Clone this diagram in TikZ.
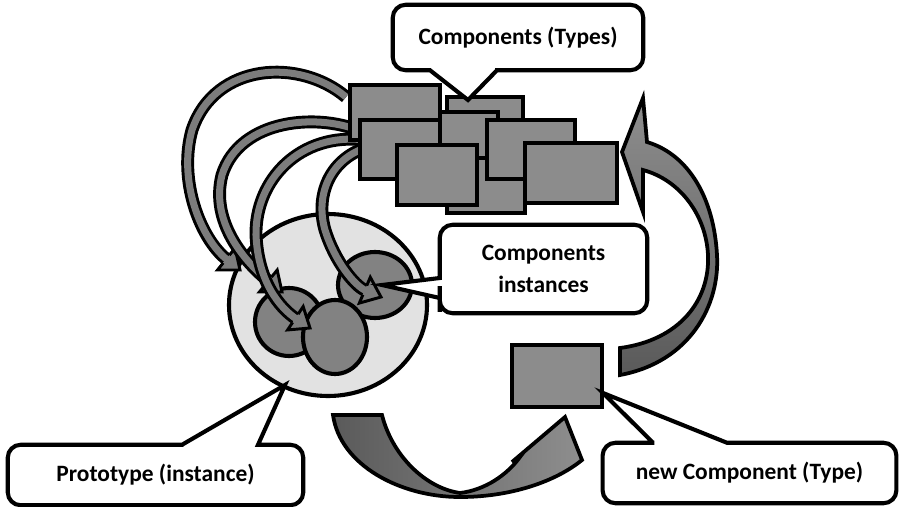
\documentclass[tikz,border=0pt]{standalone}
\usepackage{fontspec}
\setmainfont{Carlito}
\usetikzlibrary{calc,decorations.markings}

\definecolor{boxgray}{HTML}{8C8C8C}
\definecolor{bandgray}{HTML}{7C7C7C}
\definecolor{circgray}{HTML}{828282}
\definecolor{ellgray}{HTML}{E2E2E2}
\definecolor{darkband}{HTML}{5A5A5A}
\definecolor{lightband}{HTML}{8E8E8E}

\pgfdeclarelayer{calloutlayer}
\pgfdeclarelayer{labellayer}
\pgfsetlayers{main,calloutlayer,labellayer}

% arrow head placed at the end of a curved band
\newcommand\bandhead{%
  \fill[bandgray] (-15pt,4.25pt) -- (-15pt,12pt) -- (0pt,0pt) -- (-15pt,-12pt) -- (-15pt,-4.25pt) -- cycle;
  \draw[line width=2.5pt, line join=miter] (-15pt,4.25pt) -- (-15pt,12pt) -- (0pt,0pt) -- (-15pt,-12pt) -- (-15pt,-4.25pt);
}
% outlined curved band ending in an arrow head
\newcommand\curvedband[1]{%
  \draw[line width=11pt, black, shorten >=15pt] #1;
  \draw[line width=6pt, bandgray, shorten >=14pt] #1;
  \path[decoration={markings, mark=at position 1 with {\bandhead}}, decorate] #1;
}

\begin{document}
\begin{tikzpicture}[x=0.03cm, y=-0.03cm,
  outline/.style={draw=black, line width=3.5pt, line join=miter},
  typebox/.style={outline, fill=boxgray},
  instcircle/.style={outline, fill=circgray},
  bigarrow/.style={draw=black, line width=3.2pt, line join=miter},
  calloutshape/.style={draw=black, fill=white, line width=3.5pt, line join=miter},
  calloutlabel/.style={font=\bfseries\fontsize{20}{27}\selectfont, align=center, inner sep=0pt}]
\useasboundingbox (0,0) rectangle (899,507);

% prototype instance with its component instances
\draw[outline, fill=ellgray] (328,305) ellipse [x radius=99, y radius=91];
\draw[instcircle] (375,285) ellipse [x radius=37, y radius=33];
\draw[instcircle] (289,322) ellipse [x radius=34, y radius=34];
\draw[instcircle] (335,337) ellipse [x radius=32, y radius=37];

% instantiation arrows from the types to the prototype
\curvedband{(346,97) .. controls (300,58) and (215,62) .. (192,130) .. controls (178,180) and (200,238) .. (240,270)}
\curvedband{(365,133) .. controls (320,112) and (240,118) .. (222,175) .. controls (210,222) and (245,262) .. (282,292)}
\curvedband{(365,140) .. controls (300,132) and (255,180) .. (256,235) .. controls (258,282) and (280,308) .. (310,328)}
\curvedband{(365,148) .. controls (330,160) and (315,195) .. (325,230) .. controls (335,262) and (355,286) .. (381,297)}

% component types
\draw[typebox] (350,85) rectangle (440,140);
\draw[typebox] (447,97) rectangle (523,150);
\draw[typebox] (440,112) rectangle (498,165);
\draw[typebox] (447,158) rectangle (525,213);
\draw[typebox] (360,120) rectangle (440,179);
\draw[typebox] (487,120) rectangle (575,179);
\draw[typebox] (397,145) rectangle (477,205);
\draw[typebox] (525,143) rectangle (617,203);

% new component type
\draw[typebox] (512,345) rectangle (602,407);

% cycle arrows
\draw[bigarrow, left color=darkband, right color=lightband]
  (333,415) -- (382,415) .. controls (392,455) and (425,488) .. (460,493)
  .. controls (485,490) and (507,475) .. (520,457) -- (512,462) -- (565,417) -- (582,460)
  .. controls (555,482) and (510,497) .. (460,497)
  .. controls (400,497) and (340,465) .. (333,415) -- cycle;
\draw[bigarrow, top color=lightband, bottom color=darkband]
  (620,375) .. controls (690,362) and (720,305) .. (717,255)
  .. controls (714,200) and (690,155) .. (647,142) -- (643,98) -- (622,152) -- (643,212) -- (643,170)
  .. controls (680,180) and (706,215) .. (708,255)
  .. controls (710,300) and (680,340) .. (620,348) -- cycle;

% callout targets
\coordinate (tipTypes) at (468,100);
\coordinate (tipInst) at (382,285);
\coordinate (tipProto) at (285,385);
\coordinate (tipNew) at (603,393);

% callout labels
\begin{pgfonlayer}{labellayer}
\node[calloutlabel, minimum width=7.5cm, minimum height=1.95cm] (types) at (518,37.5) {Components (Types)};
\node[calloutlabel, minimum width=6.21cm, minimum height=2.64cm] (inst) at (543.5,269) {Components\\instances};
\node[calloutlabel, minimum width=8.85cm, minimum height=1.8cm] (proto) at (155.5,475) {Prototype (instance)};
\node[calloutlabel, minimum width=8.8cm, minimum height=1.8cm] (newc) at (749.5,473) {new Component (Type)};
\end{pgfonlayer}

% callout outlines with their pointers
\begin{pgfonlayer}{calloutlayer}
\draw[calloutshape] (types.north) [rounded corners=11pt] -- (types.north east) -- (types.south east)
  -- ($(types.south)+(-10,0)$) [sharp corners] -- ($(types.south)+(-21,0)$) -- (tipTypes)
  -- ($(types.south)+(-88,0)$) -- ($(types.south)+(-100,0)$) [rounded corners=11pt]
  -- (types.south west) -- (types.north west) -- cycle;
\draw[calloutshape] (inst.north) [rounded corners=11pt] -- (inst.north east) -- (inst.south east)
  -- (inst.south west) -- ($(inst.west)+(0,30)$) [sharp corners] -- ($(inst.west)+(0,29)$) -- (tipInst)
  -- ($(inst.west)+(0,9)$) -- ($(inst.west)+(0,0)$) [rounded corners=11pt]
  -- (inst.north west) -- cycle;
\draw[calloutshape] (proto.south) [rounded corners=11pt] -- (proto.south west) -- (proto.north west)
  -- ($(proto.north)+(15,0)$) [sharp corners] -- ($(proto.north)+(26.5,0)$) -- (tipProto)
  -- ($(proto.north)+(102.5,0)$) -- ($(proto.north)+(112,0)$) [rounded corners=11pt]
  -- (proto.north east) -- (proto.south east) -- cycle;
\draw[calloutshape] (newc.south) [rounded corners=11pt] -- (newc.south west) -- (newc.north west)
  -- ($(newc.north)+(-108,0)$) [sharp corners] -- ($(newc.north)+(-96.5,0)$) -- (tipNew)
  -- ($(newc.north)+(-22.5,0)$) -- ($(newc.north)+(-12,0)$) [rounded corners=11pt]
  -- (newc.north east) -- (newc.south east) -- cycle;
\end{pgfonlayer}
\end{tikzpicture}
\end{document}
